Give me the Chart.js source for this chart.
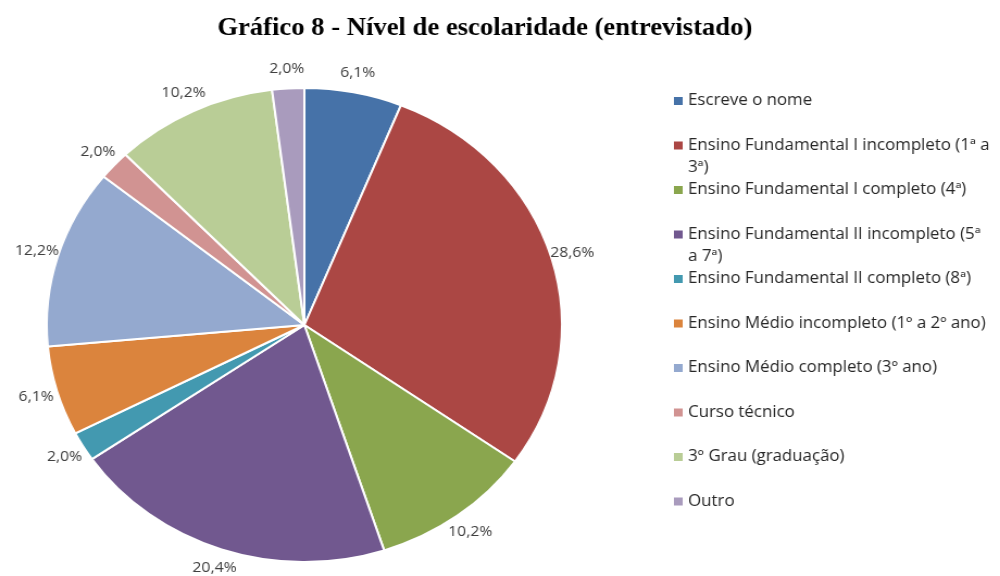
<!DOCTYPE html>
<html>
<head>
<meta charset="utf-8">
<script src="https://cdn.jsdelivr.net/npm/chart.js@4.4.0/dist/chart.umd.min.js"></script>
<style>
    html, body { margin: 0; padding: 0; background: #fff; overflow: hidden; }
    /* the reference is stretched sideways, so draw narrow and stretch */
    #wrap { position: relative; width: 920px; height: 576px; transform: scaleX(1.087); transform-origin: 0 0; }
</style>
</head>
<body>
<div id="wrap"><canvas id="escolaridadeChart"></canvas></div>
<script>
// Data
const chartTitle = 'Gráfico 8 - Nível de escolaridade (entrevistado)';
const categories = [
    'Escreve o nome',
    ['Ensino Fundamental I incompleto (1ª a', '3ª)'],
    'Ensino Fundamental I completo (4ª)',
    ['Ensino Fundamental II incompleto (5ª', 'a 7ª)'],
    'Ensino Fundamental II completo (8ª)',
    'Ensino Médio incompleto (1º a 2º ano)',
    'Ensino Médio completo (3º ano)',
    'Curso técnico',
    '3º Grau (graduação)',
    'Outro'
];
const percentages = [6.1, 28.6, 10.2, 20.4, 2.0, 6.1, 12.2, 2.0, 10.2, 2.0];
const sliceColors = [
    '#4672a8', '#ab4744', '#8aa64e', '#71588f', '#4399b0',
    '#db843d', '#94a9cf', '#d19392', '#b9cd96', '#a99bbd'
];

function formatPct(v) {
    return v.toFixed(1).replace('.', ',') + '%';
}

// Title, outside labels and legend drawn by hand
const decorPlugin = {
    id: 'decor',
    afterDraw(chart) {
        const ctx = chart.ctx;
        ctx.save();

        // title
        ctx.fillStyle = '#000';
        ctx.font = 'bold 24.5px "Liberation Serif", "Times New Roman", serif';
        ctx.textAlign = 'center';
        ctx.textBaseline = 'alphabetic';
        ctx.fillText(chartTitle, 446, 35);

        // percentage labels
        const meta = chart.getDatasetMeta(0);
        ctx.font = '14.5px "Open Sans", sans-serif';
        ctx.fillStyle = '#404040';
        ctx.textBaseline = 'middle';
        meta.data.forEach((arc, i) => {
            const p = arc.getProps(['x', 'y', 'startAngle', 'endAngle', 'outerRadius'], true);
            const mid = (p.startAngle + p.endAngle) / 2;
            const r = p.outerRadius + 20;
            ctx.fillText(formatPct(percentages[i]), p.x + Math.cos(mid) * r, p.y + Math.sin(mid) * r);
        });

        // legend
        const boxX = 620, textX = 633, top = 101, step = 44.5, lineH = 22;
        ctx.font = '15.5px "Open Sans", sans-serif';
        ctx.textAlign = 'left';
        categories.forEach((label, i) => {
            const y = top + step * i;
            ctx.fillStyle = sliceColors[i];
            ctx.fillRect(boxX, y - 4, 8, 8);
            ctx.fillStyle = '#262626';
            const lines = Array.isArray(label) ? label : [label];
            lines.forEach((line, j) => ctx.fillText(line, textX, y + j * lineH));
        });

        ctx.restore();
    }
};

const ctx = document.getElementById('escolaridadeChart');
new Chart(ctx, {
    type: 'pie',
    data: {
        labels: categories,
        datasets: [{
            data: percentages,
            backgroundColor: sliceColors,
            borderColor: '#ffffff',
            borderWidth: 2
        }]
    },
    options: {
        responsive: true,
        maintainAspectRatio: false,
        animation: false,
        radius: 237,
        layout: {
            padding: { left: 20, right: 380, top: 80, bottom: 6 }
        },
        plugins: {
            legend: { display: false },
            tooltip: { enabled: false },
            title: { display: false }
        }
    },
    plugins: [decorPlugin]
});
</script>
</body>
</html>
